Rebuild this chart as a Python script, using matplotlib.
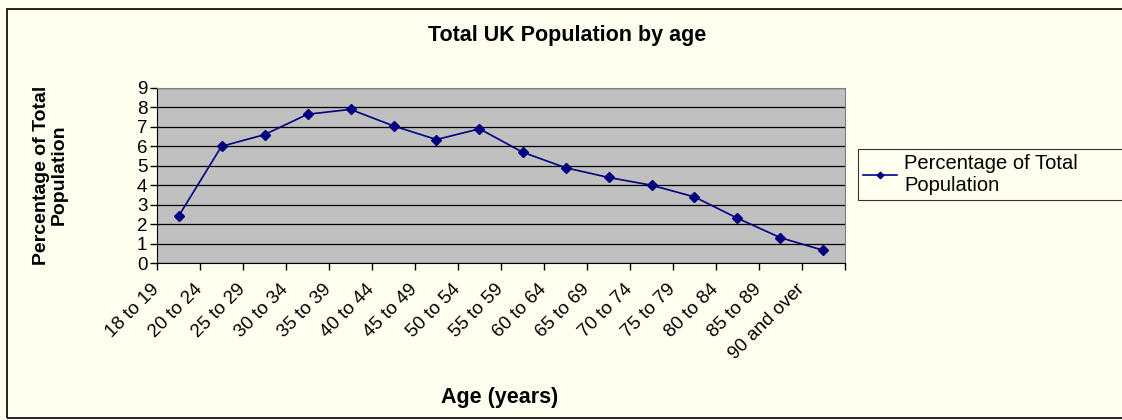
import matplotlib
matplotlib.use('Agg')
import matplotlib.pyplot as plt
from matplotlib.patches import Rectangle
from matplotlib.transforms import ScaledTranslation

plt.rcParams['font.family'] = ['Liberation Sans', 'DejaVu Sans']

# data
age_groups = ['18 to 19', '20 to 24', '25 to 29', '30 to 34', '35 to 39', '40 to 44',
              '45 to 49', '50 to 54', '55 to 59', '60 to 64', '65 to 69', '70 to 74',
              '75 to 79', '80 to 84', '85 to 89', '90 and over']
pct_total = [2.4, 6.0, 6.6, 7.65, 7.9, 7.05, 6.35, 6.9, 5.7, 4.9, 4.4, 4.0,
             3.4, 2.3, 1.3, 0.65]
y_ticks = list(range(0, 10))

W, H = 1122, 420
fig = plt.figure(figsize=(W / 100, H / 100), dpi=100)
fig.patch.set_facecolor('#FFFFF0')

# outer chart border (runs off the right edge like the original)
fig.add_artist(Rectangle((7 / W, 1 - 418 / H), (W + 20) / W, 409 / H,
                         transform=fig.transFigure, fill=False,
                         edgecolor='black', lw=1.2))

ax = fig.add_axes([157 / W, 1 - 263 / H, 688 / W, 175 / H])
ax.set_facecolor('#C0C0C0')

n = len(age_groups)
xs = [i + 0.5 for i in range(n)]
ax.plot(xs, pct_total, color='#000080', lw=1.2, marker='D', ms=5.5,
        label='Percentage of Total\nPopulation', zorder=3)

ax.set_xlim(0, n)
ax.set_ylim(0, 9)
ax.set_yticks(y_ticks)
ax.yaxis.grid(True, color='black', lw=0.9)
ax.set_axisbelow(True)

# Excel-style: category labels sit on the left tick of each category
ax.set_xticks(range(n + 1))
ax.set_xticklabels(age_groups + [''], rotation=45, ha='right', va='center',
                   rotation_mode='anchor', fontsize=13.5)
shift = ScaledTranslation(-4 / 100, 0, fig.dpi_scale_trans)
for lbl in ax.get_xticklabels():
    lbl.set_transform(lbl.get_transform() + shift)
ax.tick_params(axis='x', length=5, width=1, color='black', pad=12)
ax.tick_params(axis='y', length=5, width=1, color='black', labelsize=13.5, pad=2)

for s in ['top', 'right']:
    ax.spines[s].set_color('#808080')
ax.spines['left'].set_color('black')
ax.spines['bottom'].set_color('black')

fig.text(567 / W, 1 - 35 / H, 'Total UK Population by age', ha='center', va='center',
         fontsize=15.5, fontweight='bold')
fig.text(50 / W, 1 - 175 / H, 'Percentage of Total\nPopulation', ha='center',
         va='center', rotation=90, fontsize=14, fontweight='bold', linespacing=1.05)
fig.text(500 / W, 1 - 398 / H, 'Age (years)', ha='center', va='center',
         fontsize=15.5, fontweight='bold')

leg = fig.legend(loc='upper left', mode='expand',
                 bbox_to_anchor=(858 / W, 1 - 201 / H, 300 / W, 52 / H),
                 frameon=True, fancybox=False, fontsize=14.5, handlelength=1.7,
                 handletextpad=0.35, borderpad=0.25, markerscale=0.6,
                 borderaxespad=0)
leg.get_frame().set_edgecolor('black')
leg.get_frame().set_facecolor('#FFFFF0')
leg.get_frame().set_linewidth(0.8)

fig.savefig('out.png', dpi=100, facecolor=fig.get_facecolor())
